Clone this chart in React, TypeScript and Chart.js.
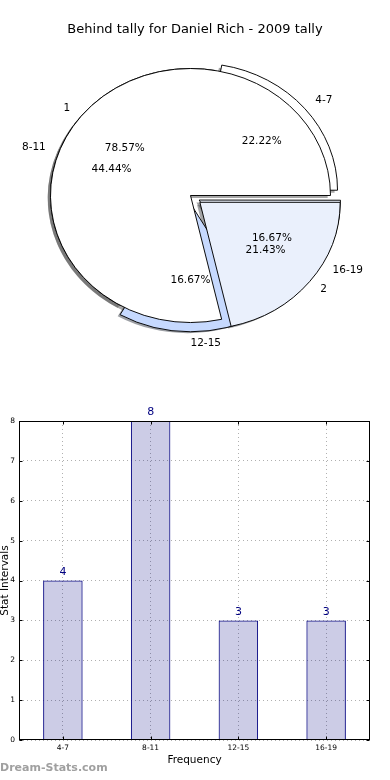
import React, { useEffect, useRef } from "react";
import { Chart, registerables } from "chart.js";

Chart.register(...registerables);

// ---- data ----
const chartTitle = "Behind tally for Daniel Rich - 2009 tally";
const intervalLabels = ["4-7", "8-11", "12-15", "16-19"];
const intervalCounts = [4, 8, 3, 3];
const groupLabels = ["1", "2"];
const groupCounts = [11, 3];
const yTickValues = [0, 1, 2, 3, 4, 5, 6, 7, 8];
const xAxisTitle = "Frequency";
const yAxisTitle = "Stat Intervals";
const watermark = "Dream-Stats.com";

// ---- styles ----
const FONT = '"DejaVu Sans", "Liberation Sans", sans-serif';
const PIE_R = 140;
const PIE_SY = 127 / 140;
const SHADOW_DX = -2.8;
const SHADOW_DY = 2.5;
const intervalColors = ["#ffffff", "#ffffff", "#c6d9fe", "#eaf0fc"];
const intervalOffsets = [36, 0, 36, 40];
const groupColors = ["#ffffff", "#eaf0fc"];
const groupOffsets = [0, 48];

Chart.defaults.font.family = FONT;

function shadowColor(hex: string) {
  const h = hex.replace("#", "");
  const r = parseInt(h.slice(0, 2), 16) * 0.3;
  const g = parseInt(h.slice(2, 4), 16) * 0.3;
  const b = parseInt(h.slice(4, 6), 16) * 0.3;
  return `rgba(${r.toFixed(0)},${g.toFixed(0)},${b.toFixed(0)},0.5)`;
}

function arcGeom(arc: any) {
  const p = arc.getProps(["x", "y", "startAngle", "endAngle", "outerRadius"], true);
  const t = (arc.options.offset || 0) / 4;
  const mid = (p.startAngle + p.endAngle) / 2;
  return { ...p, t, mid };
}

function drawShadows(ctx: CanvasRenderingContext2D, chart: any) {
  if (!chart) return;
  const meta = chart.getDatasetMeta(0);
  meta.data.forEach((arc: any) => {
    const g = arcGeom(arc);
    const cx = g.x + Math.cos(g.mid) * g.t;
    const cy = g.y + Math.sin(g.mid) * g.t;
    ctx.save();
    ctx.translate(SHADOW_DX, SHADOW_DY);
    ctx.translate(g.x, g.y);
    ctx.scale(1, -PIE_SY);
    ctx.translate(-g.x, -g.y);
    ctx.beginPath();
    ctx.moveTo(cx, cy);
    ctx.arc(cx, cy, g.outerRadius, g.startAngle, g.endAngle);
    ctx.closePath();
    ctx.fillStyle = shadowColor(arc.options.backgroundColor);
    ctx.fill();
    ctx.restore();
  });
}

function drawPieTexts(ctx: CanvasRenderingContext2D, chart: any, labels: string[], values: number[]) {
  if (!chart) return;
  const meta = chart.getDatasetMeta(0);
  const total = values.reduce((s, v) => s + v, 0);
  ctx.save();
  ctx.fillStyle = "#000";
  ctx.font = `10.5px ${FONT}`;
  ctx.textBaseline = "middle";
  meta.data.forEach((arc: any, i: number) => {
    const g = arcGeom(arc);
    const pos = (k: number) => ({
      x: g.x + Math.cos(g.mid) * (g.t + k * g.outerRadius),
      y: g.y - PIE_SY * Math.sin(g.mid) * (g.t + k * g.outerRadius),
    });
    const lp = pos(1.1);
    ctx.textAlign = lp.x - g.x > -1 ? "left" : "right";
    ctx.fillText(labels[i], lp.x, lp.y);
    const pp = pos(0.6);
    ctx.textAlign = "center";
    ctx.fillText(((values[i] / total) * 100).toFixed(2) + "%", pp.x, pp.y);
  });
  ctx.restore();
}

const ellipsePlugin = {
  id: "ellipse",
  beforeDatasetsDraw(chart: any) {
    const arc = chart.getDatasetMeta(0).data[0];
    const { x, y } = arc;
    const ctx = chart.ctx;
    ctx.save();
    ctx.translate(x, y);
    ctx.scale(1, -PIE_SY);
    ctx.translate(-x, -y);
  },
  afterDatasetsDraw(chart: any) {
    chart.ctx.restore();
  },
};

function pieConfig(labels: string[], values: number[], colors: string[], offsets: number[], plugins: any[]) {
  return {
    type: "pie" as const,
    data: {
      labels,
      datasets: [
        {
          data: values,
          backgroundColor: colors,
          borderColor: "#000000",
          borderWidth: 1,
          offset: offsets,
          radius: PIE_R,
          rotation: 90,
          clip: false,
        },
      ],
    },
    options: {
      responsive: false,
      animation: false as const,
      events: [],
      radius: PIE_R,
      rotation: 90,
      layout: { padding: { left: 0, right: 9, top: 0, bottom: 9 } },
      plugins: {
        legend: { display: false },
        tooltip: { enabled: false },
        title: { display: false },
      },
    },
    plugins,
  };
}

export default function App() {
  const pieARef = useRef<HTMLCanvasElement>(null);
  const pieBRef = useRef<HTMLCanvasElement>(null);
  const barRef = useRef<HTMLCanvasElement>(null);

  useEffect(() => {
    const holder: { a: any; b: any } = { a: null, b: null };

    const bottomPlugin = {
      id: "bottomLayer",
      beforeDraw(chart: any) {
        drawShadows(chart.ctx, chart);
        drawShadows(chart.ctx, holder.b);
      },
      afterDraw(chart: any) {
        const ctx = chart.ctx;
        ctx.save();
        ctx.fillStyle = "#000";
        ctx.font = `13px ${FONT}`;
        ctx.textAlign = "center";
        ctx.textBaseline = "middle";
        ctx.fillText(chartTitle, 195, 30);
        ctx.restore();
      },
    };
    const topPlugin = {
      id: "topLayer",
      afterDraw(chart: any) {
        drawPieTexts(chart.ctx, holder.a, intervalLabels, intervalCounts);
        drawPieTexts(chart.ctx, chart, groupLabels, groupCounts);
      },
    };

    holder.a = new Chart(
      pieARef.current!,
      pieConfig(intervalLabels, intervalCounts, intervalColors, intervalOffsets, [bottomPlugin, ellipsePlugin]) as any
    );
    holder.b = new Chart(
      pieBRef.current!,
      pieConfig(groupLabels, groupCounts, groupColors, groupOffsets, [ellipsePlugin, topPlugin]) as any
    );
    holder.a.draw();

    const framePlugin = {
      id: "frame",
      afterDatasetsDraw(chart: any) {
        const { ctx, chartArea: a, scales } = chart;
        ctx.save();
        ctx.strokeStyle = "#000";
        ctx.lineWidth = 1;
        const l = Math.round(a.left) + 0.5;
        const r = Math.round(a.right) - 0.5;
        const t = Math.round(a.top) + 0.5;
        const b = Math.round(a.bottom) - 0.5;
        ctx.strokeRect(l, t, r - l, b - t);
        ctx.beginPath();
        scales.y.ticks.forEach((_: any, i: number) => {
          const y = Math.round(scales.y.getPixelForTick(i)) + 0.5;
          ctx.moveTo(l, y);
          ctx.lineTo(l + 3, y);
          ctx.moveTo(r, y);
          ctx.lineTo(r - 3, y);
        });
        scales.x.ticks.forEach((_: any, i: number) => {
          const x = Math.round(scales.x.getPixelForTick(i)) + 0.5;
          ctx.moveTo(x, b);
          ctx.lineTo(x, b - 3);
          ctx.moveTo(x, t);
          ctx.lineTo(x, t + 3);
        });
        ctx.stroke();

        // value labels
        const meta = chart.getDatasetMeta(0);
        ctx.fillStyle = "#000080";
        ctx.font = `11px ${FONT}`;
        ctx.textAlign = "center";
        ctx.textBaseline = "middle";
        meta.data.forEach((bar: any, i: number) => {
          ctx.fillText(String(intervalCounts[i]), bar.x, bar.y - 8.5);
        });
        ctx.restore();
      },
      afterDraw(chart: any) {
        const { ctx, chartArea: a } = chart;
        ctx.save();
        ctx.fillStyle = "#000";
        ctx.font = `10.5px ${FONT}`;
        ctx.textAlign = "center";
        ctx.textBaseline = "middle";
        ctx.fillText(xAxisTitle, (a.left + a.right) / 2, a.bottom + 20);
        ctx.save();
        ctx.translate(7.5, (a.top + a.bottom) / 2);
        ctx.rotate(-Math.PI / 2);
        ctx.textBaseline = "alphabetic";
        ctx.fillText(yAxisTitle, 0, 0);
        ctx.restore();
        ctx.fillStyle = "#a0a0a0";
        ctx.font = `bold 11px ${FONT}`;
        ctx.textAlign = "left";
        ctx.fillText(watermark, 0, a.bottom + 28);
        ctx.restore();
      },
    };

    const bar = new Chart(barRef.current!, {
      type: "bar",
      data: {
        labels: intervalLabels,
        datasets: [
          {
            data: intervalCounts,
            backgroundColor: "rgba(0,0,128,0.2)",
            borderColor: "#000080",
            borderWidth: 1,
            barPercentage: 0.45,
            categoryPercentage: 1,
          },
        ],
      },
      options: {
        responsive: false,
        animation: false,
        events: [],
        layout: { padding: { top: 21, right: 20, left: 0, bottom: 0 } },
        plugins: {
          legend: { display: false },
          tooltip: { enabled: false },
        },
        scales: {
          x: {
            offset: true,
            grid: { offset: false, color: "#b0b0b0", drawTicks: false, lineWidth: 1 },
            border: { display: false, dash: [1, 3] },
            ticks: { font: { size: 7.5 }, color: "#000", padding: 4, maxRotation: 0, autoSkip: false },
            afterFit: (s: any) => {
              s.height = 40;
            },
          },
          y: {
            min: yTickValues[0],
            max: yTickValues[yTickValues.length - 1],
            grid: { color: "#b0b0b0", drawTicks: false, lineWidth: 1 },
            border: { display: false, dash: [1, 3] },
            ticks: { stepSize: 1, font: { size: 7.5 }, color: "#000", padding: 4 },
            afterFit: (s: any) => {
              s.width = 19;
            },
          },
        },
      },
      plugins: [framePlugin],
    } as any);

    return () => {
      holder.b?.destroy();
      holder.a?.destroy();
      bar.destroy();
    };
  }, []);

  return (
    <div style={{ position: "absolute", left: 0, top: 0, width: 390, height: 780, background: "#fff", overflow: "hidden" }}>
      <canvas ref={pieARef} width={390} height={400} style={{ position: "absolute", left: 0, top: 0, width: 390, height: 400 }} />
      <canvas ref={pieBRef} width={390} height={400} style={{ position: "absolute", left: 0, top: 0, width: 390, height: 400 }} />
      <canvas ref={barRef} width={390} height={380} style={{ position: "absolute", left: 0, top: 400, width: 390, height: 380 }} />
    </div>
  );
}
